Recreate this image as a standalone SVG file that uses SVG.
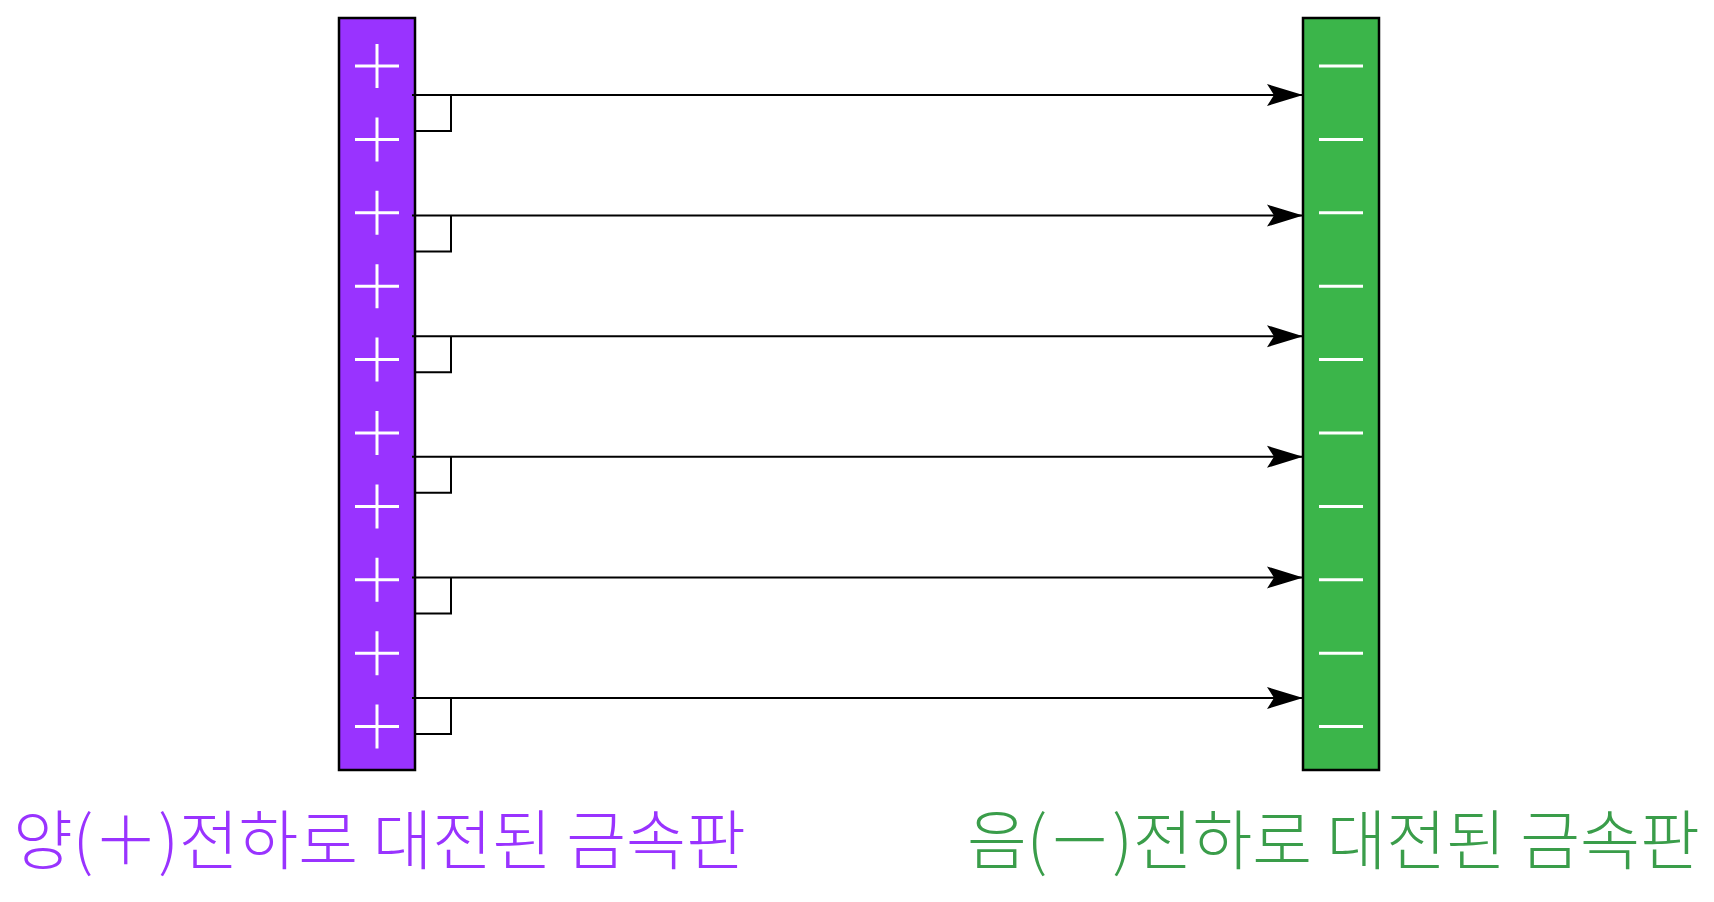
<svg xmlns="http://www.w3.org/2000/svg" width="1714" height="902" viewBox="0 0 1714 902">
<style>
.plate{stroke:#000;stroke-width:2.5}
.sign{stroke:#fff;stroke-width:3;fill:none}
.conn{stroke:#000;stroke-width:2;fill:none}
.lbl{font-family:"Noto Sans CJK KR","Noto Sans",sans-serif;font-size:65px;font-weight:300}
</style>
<defs>
<marker id="ah" markerUnits="userSpaceOnUse" markerWidth="40" markerHeight="26" refX="36" refY="12" orient="auto">
<path d="M36,12 L0,1 L7,12 L0,23 Z" fill="#000"/>
</marker>
<g id="plus"><path class="sign" d="M-22,0 H22 M0,-22 V22"/></g>
<g id="minus"><path class="sign" d="M-22,0 H22"/></g>
</defs>
<rect width="1714" height="902" fill="#fff"/>
<g id="positive-plate">
<rect class="plate" x="339" y="18" width="76" height="752" fill="#9933ff"/>
<use href="#plus" x="377" y="66"/>
<use href="#plus" x="377" y="139.4"/>
<use href="#plus" x="377" y="212.8"/>
<use href="#plus" x="377" y="286.2"/>
<use href="#plus" x="377" y="359.6"/>
<use href="#plus" x="377" y="433"/>
<use href="#plus" x="377" y="506.4"/>
<use href="#plus" x="377" y="579.8"/>
<use href="#plus" x="377" y="653.2"/>
<use href="#plus" x="377" y="726.6"/>
</g>
<g id="negative-plate">
<rect class="plate" x="1303" y="18" width="76" height="752" fill="#3bb54a"/>
<use href="#minus" x="1341" y="66"/>
<use href="#minus" x="1341" y="139.4"/>
<use href="#minus" x="1341" y="212.8"/>
<use href="#minus" x="1341" y="286.2"/>
<use href="#minus" x="1341" y="359.6"/>
<use href="#minus" x="1341" y="433"/>
<use href="#minus" x="1341" y="506.4"/>
<use href="#minus" x="1341" y="579.8"/>
<use href="#minus" x="1341" y="653.2"/>
<use href="#minus" x="1341" y="726.6"/>
</g>
<g id="connectors">
<path class="conn" marker-end="url(#ah)" d="M412,95 H1303"/>
<path class="conn" marker-end="url(#ah)" d="M412,215.6 H1303"/>
<path class="conn" marker-end="url(#ah)" d="M412,336.2 H1303"/>
<path class="conn" marker-end="url(#ah)" d="M412,456.8 H1303"/>
<path class="conn" marker-end="url(#ah)" d="M412,577.4 H1303"/>
<path class="conn" marker-end="url(#ah)" d="M412,698 H1303"/>
<path class="conn" d="M451,95 V131 H415"/>
<path class="conn" d="M451,215.6 V251.6 H415"/>
<path class="conn" d="M451,336.2 V372.2 H415"/>
<path class="conn" d="M451,456.8 V492.8 H415"/>
<path class="conn" d="M451,577.4 V613.4 H415"/>
<path class="conn" d="M451,698 V734 H415"/>
</g>
<g id="label-positive">
<text class="lbl" x="13" y="864" fill="#9933ff">양(＋)전하로 대전된 금속판</text>
</g>
<g id="label-negative">
<text class="lbl" x="967" y="864" fill="#3a9d4a">음(－)전하로 대전된 금속판</text>
</g>
</svg>
